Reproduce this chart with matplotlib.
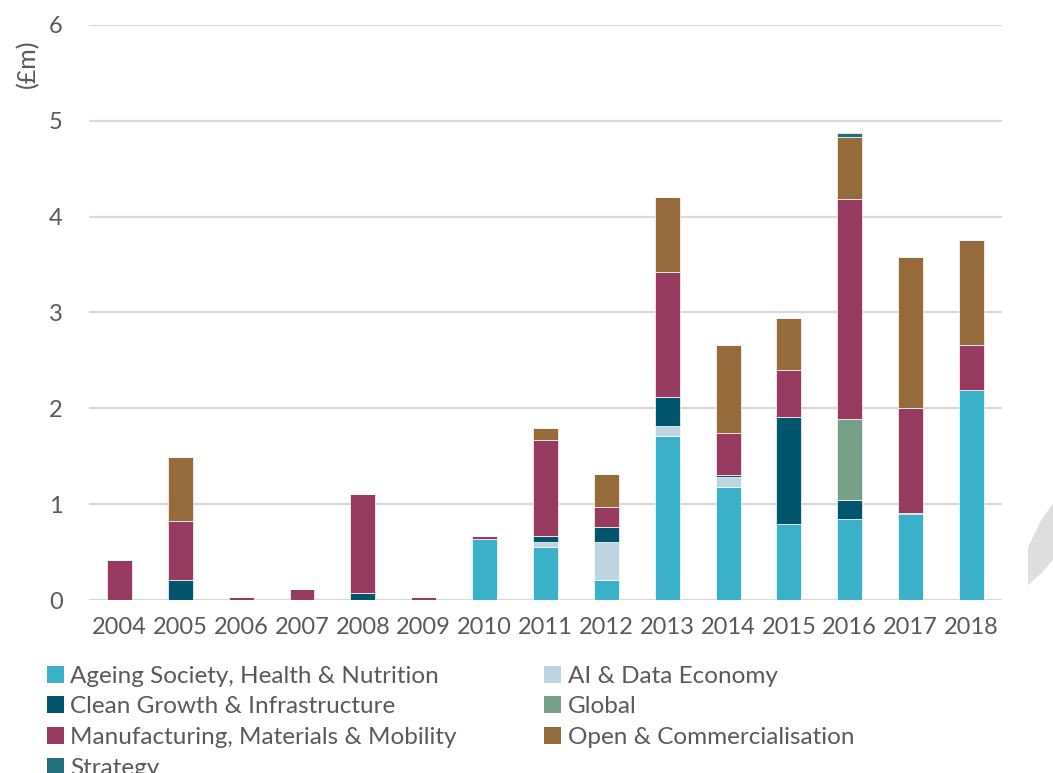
import numpy as np
import matplotlib
matplotlib.use("Agg")
import matplotlib.pyplot as plt
from matplotlib.patches import Patch, Polygon

years = [str(y) for y in range(2004, 2019)]

ageing = [0, 0, 0, 0, 0, 0, 0.64, 0.55, 0.205, 1.715, 1.18, 0.79, 0.85, 0.90, 2.19]
ai_data = [0, 0, 0, 0, 0, 0, 0, 0.06, 0.405, 0.105, 0.10, 0, 0, 0, 0]
clean = [0, 0.21, 0, 0, 0.07, 0, 0, 0.06, 0.15, 0.30, 0.02, 1.12, 0.19, 0.01, 0]
global_ = [0, 0, 0, 0, 0, 0, 0, 0, 0, 0, 0, 0, 0.85, 0, 0]
manuf = [0.42, 0.61, 0.03, 0.115, 1.04, 0.03, 0.03, 1.00, 0.21, 1.30, 0.44, 0.49, 2.29, 1.09, 0.47]
open_comm = [0, 0.67, 0, 0, 0, 0, 0, 0.12, 0.34, 0.79, 0.92, 0.54, 0.65, 1.58, 1.10]
strategy = [0, 0, 0, 0, 0, 0, 0, 0, 0, 0, 0, 0, 0.04, 0, 0]

series = [
    ("Ageing Society, Health & Nutrition", ageing, "#3BB0C9"),
    ("AI & Data Economy", ai_data, "#BDD5E0"),
    ("Clean Growth & Infrastructure", clean, "#01566E"),
    ("Global", global_, "#76A087"),
    ("Manufacturing, Materials & Mobility", manuf, "#963A60"),
    ("Open & Commercialisation", open_comm, "#956B3B"),
    ("Strategy", strategy, "#22707D"),
]

plt.rcParams['font.family'] = ['Lato', 'DejaVu Sans']
txt = "#595959"

fig = plt.figure(figsize=(10.53, 7.73), dpi=100)
ax = fig.add_axes([0.0845, 0.2238, 0.867, 0.7439])

x = np.arange(len(years))
bottom = np.zeros(len(years))
handles = {}
for name, vals, col in series:
    vals = np.array(vals)
    ax.bar(x, vals, 0.41, bottom=bottom, color=col, edgecolor="white",
           linewidth=0.5, zorder=3)
    bottom += vals
    handles[name] = Patch(facecolor=col, edgecolor="none")

ax.set_xlim(-0.5, len(years) - 0.5)
ax.set_ylim(0, 6)
ax.set_yticks(range(0, 7))
ax.set_xticks(x)
ax.set_xticklabels(years)
ax.grid(axis="y", color="#D9D9D9", linewidth=1.6, zorder=0)
for s in ax.spines.values():
    s.set_visible(False)
ax.tick_params(axis="both", length=0, labelsize=17, colors=txt)
ax.tick_params(axis="y", pad=19)
ax.tick_params(axis="x", pad=12)

fig.text(0.026, 0.918, "(£m)", rotation=90, ha="center", va="center",
         fontsize=18, color=txt)

# legend, column-first order
order = [0, 2, 4, 6, 1, 3, 5]
leg = fig.legend([handles[series[i][0]] for i in order],
                 [series[i][0] for i in order],
                 loc="upper left", bbox_to_anchor=(0.045, 0.139), ncol=2,
                 frameon=False, fontsize=17.5, handlelength=0.7,
                 handleheight=0.7, handletextpad=0.25, columnspacing=3.6,
                 labelspacing=0.4, borderpad=0, borderaxespad=0)
for t in leg.get_texts():
    t.set_color(txt)

# grey decorative shape on the right edge
fig.patches.append(Polygon([[1.0, 0.349], [0.988, 0.325], [0.9763, 0.292],
                            [0.9763, 0.243], [0.99, 0.26], [1.0, 0.2756]],
                           closed=True, transform=fig.transFigure,
                           facecolor="#DEDEDE", edgecolor="none"))

fig.savefig("out.png", dpi=100)
